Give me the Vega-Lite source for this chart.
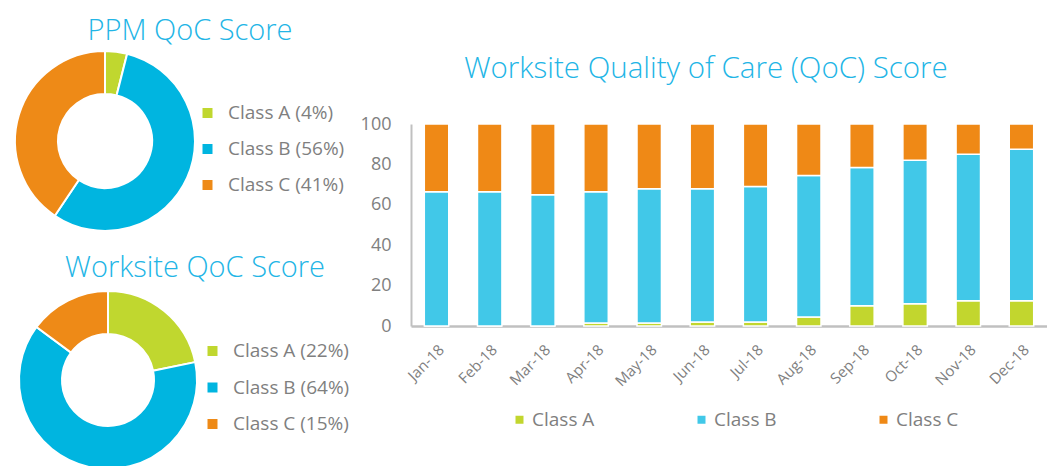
{
  "$schema": "https://vega.github.io/schema/vega-lite/v6.json",
  "padding": {"left": 5, "top": 17, "right": 0, "bottom": 0},
  "background": "white",
  "config": {
    "font": "Open Sans",
    "view": {"stroke": null},
    "title": {"font": "Open Sans", "fontWeight": 300, "fontSize": 29, "color": "#22b5e6"},
    "legend": {"labelFont": "Open Sans"},
    "axis": {"labelFont": "Open Sans"}
  },
  "datasets": {
    "ppm": [
      {"cls": "Class A", "label": "Class A (4%)", "value": 4},
      {"cls": "Class B", "label": "Class B (56%)", "value": 56},
      {"cls": "Class C", "label": "Class C (41%)", "value": 41}
    ],
    "worksite": [
      {"cls": "Class A", "label": "Class A (22%)", "value": 22},
      {"cls": "Class B", "label": "Class B (64%)", "value": 64},
      {"cls": "Class C", "label": "Class C (15%)", "value": 15}
    ],
    "monthly": [
      {"month": "Jan-18", "cls": "Class A", "value": 0},
      {"month": "Jan-18", "cls": "Class B", "value": 66.5},
      {"month": "Jan-18", "cls": "Class C", "value": 33.5},
      {"month": "Feb-18", "cls": "Class A", "value": 0},
      {"month": "Feb-18", "cls": "Class B", "value": 66.5},
      {"month": "Feb-18", "cls": "Class C", "value": 33.5},
      {"month": "Mar-18", "cls": "Class A", "value": 0},
      {"month": "Mar-18", "cls": "Class B", "value": 65},
      {"month": "Mar-18", "cls": "Class C", "value": 35},
      {"month": "Apr-18", "cls": "Class A", "value": 1.5},
      {"month": "Apr-18", "cls": "Class B", "value": 65},
      {"month": "Apr-18", "cls": "Class C", "value": 33.5},
      {"month": "May-18", "cls": "Class A", "value": 1.5},
      {"month": "May-18", "cls": "Class B", "value": 66.5},
      {"month": "May-18", "cls": "Class C", "value": 32},
      {"month": "Jun-18", "cls": "Class A", "value": 2},
      {"month": "Jun-18", "cls": "Class B", "value": 66},
      {"month": "Jun-18", "cls": "Class C", "value": 32},
      {"month": "Jul-18", "cls": "Class A", "value": 2},
      {"month": "Jul-18", "cls": "Class B", "value": 67},
      {"month": "Jul-18", "cls": "Class C", "value": 31},
      {"month": "Aug-18", "cls": "Class A", "value": 4.5},
      {"month": "Aug-18", "cls": "Class B", "value": 70},
      {"month": "Aug-18", "cls": "Class C", "value": 25.5},
      {"month": "Sep-18", "cls": "Class A", "value": 10},
      {"month": "Sep-18", "cls": "Class B", "value": 68.5},
      {"month": "Sep-18", "cls": "Class C", "value": 21.5},
      {"month": "Oct-18", "cls": "Class A", "value": 11},
      {"month": "Oct-18", "cls": "Class B", "value": 71},
      {"month": "Oct-18", "cls": "Class C", "value": 18},
      {"month": "Nov-18", "cls": "Class A", "value": 12.5},
      {"month": "Nov-18", "cls": "Class B", "value": 72.5},
      {"month": "Nov-18", "cls": "Class C", "value": 15},
      {"month": "Dec-18", "cls": "Class A", "value": 12.5},
      {"month": "Dec-18", "cls": "Class B", "value": 75},
      {"month": "Dec-18", "cls": "Class C", "value": 12.5}
    ]
  },
  "spacing": 10,
  "resolve": {"scale": {"color": "independent"}, "legend": {"color": "independent"}},
  "hconcat": [
    {
      "spacing": 19,
      "resolve": {"scale": {"color": "independent"}, "legend": {"color": "independent"}},
      "vconcat": [
        {
          "title": {"text": "PPM QoC Score", "anchor": "middle", "frame": "group", "dx": 85, "offset": 1},
          "width": 200,
          "height": 34,
          "data": {"name": "ppm"},
          "mark": {"type": "arc", "outerRadius": 90, "innerRadius": 47, "stroke": "white", "strokeWidth": 2},
          "encoding": {
            "theta": {"field": "value", "type": "quantitative", "stack": true},
            "order": {"field": "cls", "type": "ordinal", "sort": "ascending"},
            "color": {
              "field": "label",
              "type": "nominal",
              "scale": {"domain": ["Class A (4%)", "Class B (56%)", "Class C (41%)"], "range": ["#c0d72f", "#00b5e0", "#ee8a17"]},
              "legend": {"orient": "none", "legendX": 193, "legendY": -20.5, "title": null, "padding": 0, "symbolType": "square", "symbolSize": 100, "symbolStrokeWidth": 0, "labelFontSize": 19, "labelColor": "#7f7f7f", "labelOffset": 11, "rowPadding": 16}
            }
          }
        },
        {
          "title": {"text": "Worksite QoC Score", "anchor": "middle", "frame": "group", "dx": 87, "offset": 4},
          "width": 206,
          "height": 34,
          "data": {"name": "worksite"},
          "mark": {"type": "arc", "outerRadius": 89, "innerRadius": 46, "stroke": "white", "strokeWidth": 2},
          "encoding": {
            "theta": {"field": "value", "type": "quantitative", "stack": true},
            "order": {"field": "cls", "type": "ordinal", "sort": "ascending"},
            "color": {
              "field": "label",
              "type": "nominal",
              "scale": {"domain": ["Class A (22%)", "Class B (64%)", "Class C (15%)"], "range": ["#c0d72f", "#00b5e0", "#ee8a17"]},
              "legend": {"orient": "none", "legendX": 198, "legendY": -21.5, "title": null, "padding": 0, "symbolType": "square", "symbolSize": 100, "symbolStrokeWidth": 0, "labelFontSize": 19, "labelColor": "#7f7f7f", "labelOffset": 11, "rowPadding": 16.5}
            }
          }
        }
      ]
    },
    {
      "title": {"text": "Worksite Quality of Care (QoC) Score", "fontSize": 29.5, "anchor": "middle", "frame": "group", "dx": -23, "offset": 31},
      "width": 636,
      "height": 202,
      "data": {"name": "monthly"},
      "mark": {"type": "bar", "stroke": "white", "strokeWidth": 1.5},
      "encoding": {
        "x": {
          "field": "month",
          "type": "ordinal",
          "sort": null,
          "scale": {"paddingInner": 0.54, "paddingOuter": 0.25},
          "axis": {"title": null, "labelAngle": -45, "domainColor": "#c0c0c0", "domainWidth": 2.5, "ticks": false, "labelFontSize": 15, "labelColor": "#808080", "labelPadding": 16}
        },
        "y": {
          "field": "value",
          "type": "quantitative",
          "stack": "zero",
          "scale": {"domain": [0, 100]},
          "axis": {"title": null, "values": [0, 20, 40, 60, 80, 100], "grid": false, "ticks": false, "domainColor": "#c0c0c0", "domainWidth": 2, "labelFontSize": 18, "labelColor": "#808080", "labelPadding": 20}
        },
        "order": {"field": "cls", "type": "ordinal", "sort": "ascending"},
        "color": {
          "field": "cls",
          "type": "nominal",
          "scale": {"domain": ["Class A", "Class B", "Class C"], "range": ["#c2d62e", "#41c8e8", "#ef8916"]},
          "legend": {"orient": "none", "direction": "horizontal", "legendX": 99, "legendY": 286, "title": null, "padding": 0, "symbolType": "square", "symbolSize": 64, "symbolStrokeWidth": 0, "labelFontSize": 19, "labelColor": "#7f7f7f", "labelOffset": 3, "columnPadding": 97}
        }
      }
    }
  ]
}
